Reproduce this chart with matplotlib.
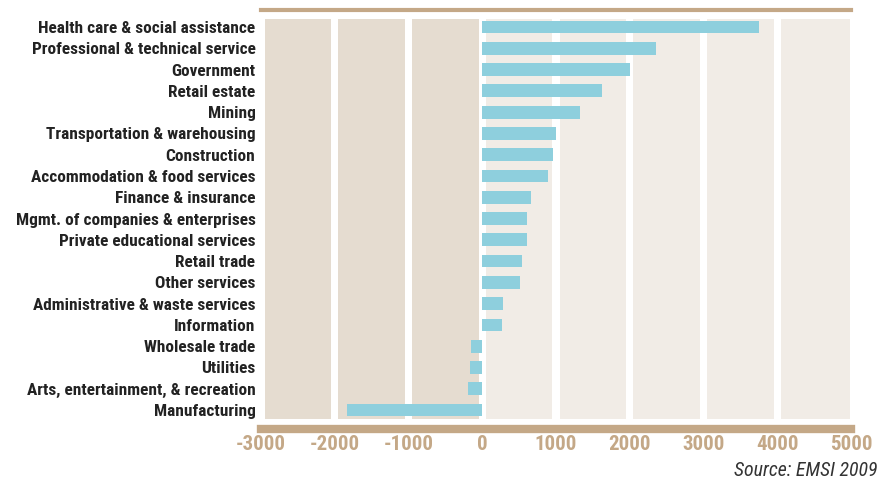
import matplotlib
matplotlib.use("Agg")
import matplotlib.pyplot as plt

# job growth by industry
industries = ["Health care & social assistance", "Professional & technical service",
              "Government", "Retail estate", "Mining", "Transportation & warehousing",
              "Construction", "Accommodation & food services", "Finance & insurance",
              "Mgmt. of companies & enterprises", "Private educational services",
              "Retail trade", "Other services", "Administrative & waste services",
              "Information", "Wholesale trade", "Utilities",
              "Arts, entertainment, & recreation", "Manufacturing"]
change = [3750, 2350, 2000, 1620, 1330, 1000, 960, 890, 660, 610, 610,
          540, 510, 280, 270, -150, -160, -200, -1840]
xticks = [-3000, -2000, -1000, 0, 1000, 2000, 3000, 4000, 5000]

tan = "#c4a887"
bar_col = "#8ecfdd"
dark_panel = "#e5dcd0"
light_panel = "#f1ece6"

plt.rcParams['font.family'] = ['Roboto Condensed', 'DejaVu Sans']

fig = plt.figure(figsize=(8.82, 4.84), dpi=100)
ax = fig.add_axes([261/882, 1 - 419/484, 590/882, 400/484])

# background panels, one per 1000 with white gaps at the ticks
for k in range(-3, 5):
    c = dark_panel if k < 0 else light_panel
    right = (k+1)*1000 - 50 if k < 4 else 4990
    ax.axvspan(k*1000 + 50, right, color=c, lw=0, zorder=0)

y = list(range(len(industries)))
ax.barh(y, change, height=0.6, color=bar_col, zorder=2)

ax.set_xlim(-3000, 5000)
ax.set_ylim(18.42, -0.376)
ax.set_xticks(xticks)
ax.set_xticklabels([str(v) for v in xticks])
ax.set_yticks(y)
ax.set_yticklabels(industries)

for s in ["left", "right"]:
    ax.spines[s].set_visible(False)
ax.spines["top"].set_position(("outward", 6.5))
ax.spines["top"].set_linewidth(3)
ax.spines["top"].set_color(tan)
ax.spines["bottom"].set_position(("outward", 7.2))
ax.spines["bottom"].set_linewidth(6)
ax.spines["bottom"].set_color(tan)

ax.tick_params(axis="x", length=0, pad=4, labelcolor=tan, labelsize=15)
ax.tick_params(axis="y", length=0, pad=4, labelcolor="#222222", labelsize=12.4)
for lab in ax.get_xticklabels():
    lab.set_fontweight("bold")
for lab in ax.get_yticklabels():
    lab.set_fontweight("semibold")

fig.text(878/882, 1 - 471/484, "Source: EMSI 2009", ha="right", va="center",
         style="italic", fontsize=14.3, color="#333333")

fig.savefig("out.png", dpi=100)
